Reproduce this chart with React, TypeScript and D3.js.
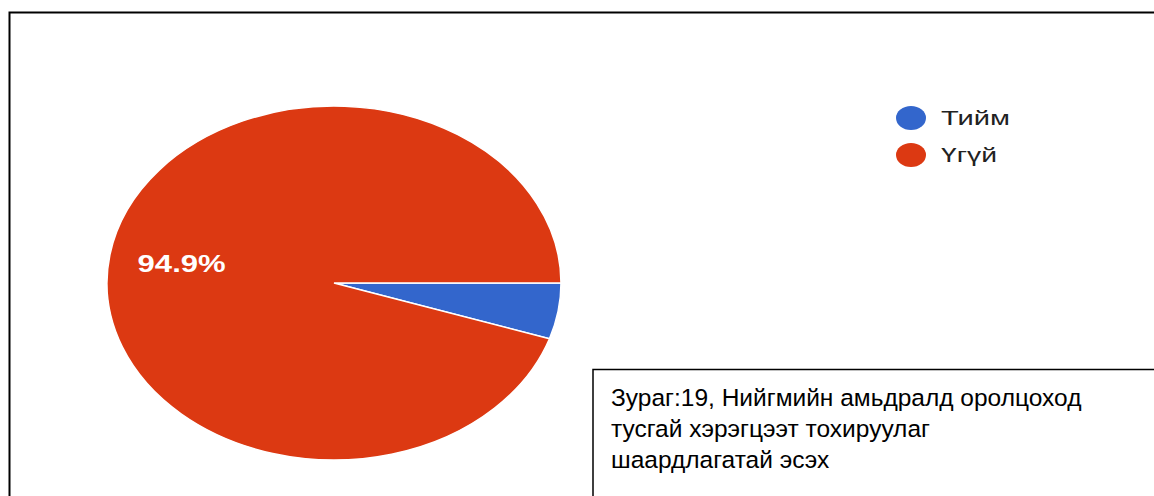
import React from "react";
import * as d3 from "d3";

const categories = ["Тийм", "Үгүй"];
const values = [5.1, 94.9];
const colors = ["#3366cc", "#dc3912"];
const captionLines = [
  "Зураг:19, Нийгмийн амьдралд оролцоход",
  "тусгай хэрэгцээт тохируулаг",
  "шаардлагатай эсэх",
];

export default function App() {
  const W = 1154, H = 496;
  const cx = 334, cy = 283, rx = 227, ry = 177;
  const R = 100;
  const pie = d3
    .pie<number>()
    .sort(null)
    .startAngle(Math.PI / 2)
    .endAngle(Math.PI / 2 + 2 * Math.PI)(values);
  const arc = d3.arc<d3.PieArcDatum<number>>().innerRadius(0).outerRadius(R);
  const labelArc = d3.arc<d3.PieArcDatum<number>>().innerRadius(R * 0.68).outerRadius(R * 0.68);
  const total = d3.sum(values);
  const font = "'Liberation Sans', Arial, sans-serif";
  return (
    <svg width={W} height={H} style={{ position: "absolute", left: 0, top: 0, background: "#fff" }}>
      <rect x={0} y={0} width={W} height={H} fill="#fff" />
      <rect x={9.5} y={12.5} width={1300} height={700} fill="none" stroke="#000" strokeWidth={2} />
      <g transform={`translate(${cx},${cy}) scale(${rx / R},${ry / R})`}>
        {pie.map((d, i) => (
          <path key={i} d={arc(d) || ""} fill={colors[i]} stroke="#fff" strokeWidth={1.5} vectorEffect="non-scaling-stroke" />
        ))}
      </g>
      {pie.map((d, i) => {
        const pct = (d.value / total) * 100;
        if (pct < 10) return null;
        const [x, y] = labelArc.centroid(d);
        return (
          <text key={i} x={cx + (x * rx) / R} y={cy + (y * ry) / R} dy="0.35em" textAnchor="middle"
            fill="#fff" fontFamily={font} fontSize={23} fontWeight="bold"
            textLength={88} lengthAdjust="spacingAndGlyphs">
            {pct.toFixed(1)}%
          </text>
        );
      })}
      {categories.map((c, i) => (
        <g key={c} transform={`translate(911,${118 + i * 37})`}>
          <ellipse rx={15} ry={12} fill={colors[i]} />
          <text x={30} dy="0.35em" fontFamily={font} fontSize={21} fill="#222"
            textLength={i === 0 ? 69 : 56} lengthAdjust="spacingAndGlyphs">{c}</text>
        </g>
      ))}
      <rect x={593} y={369.5} width={700} height={200} fill="#fff" stroke="#000" strokeWidth={1.5} />
      {captionLines.map((l, i) => (
        <text key={i} x={611} y={406 + i * 31} fontFamily={font} fontSize={24.5} fill="#000">{l}</text>
      ))}
    </svg>
  );
}
